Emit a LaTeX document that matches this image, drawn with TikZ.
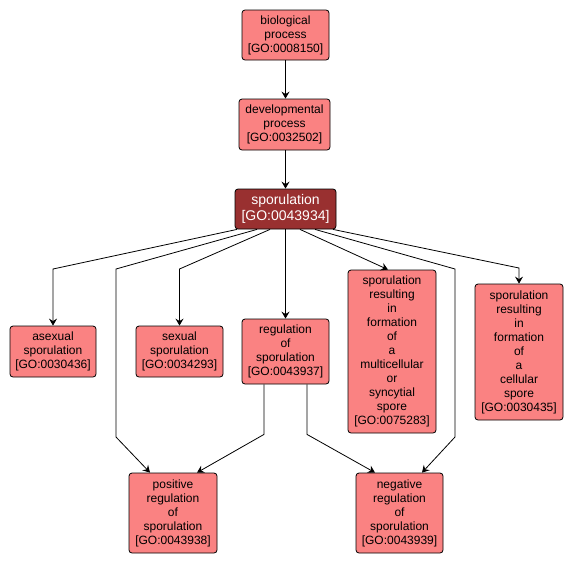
\documentclass[tikz,border=0pt]{standalone}
\usepackage{fontspec}
\setmainfont{Liberation Sans}
\usetikzlibrary{arrows.meta}
\definecolor{termfill}{RGB}{250,130,130}
\definecolor{termdark}{RGB}{153,48,48}

\begin{document}
\begin{tikzpicture}[x=1pt, y=-1pt]
    \tikzset{
        term/.style={draw=black, line width=0.8pt, rounded corners=3pt, fill=termfill,
            align=center, inner sep=0pt, font=\fontsize{12}{14}\selectfont},
        hauptterm/.style={term, fill=termdark, text=white, font=\fontsize{14}{16}\selectfont},
        kante/.style={line width=0.8pt, -{Stealth[length=7pt, width=8pt, inset=2.5pt]}}
    }
    \useasboundingbox (0,0) rectangle (572,563);

    % --- Knoten ---
    \node[term, minimum width=87pt, minimum height=50pt] (bp) at (285.5,35) {biological\\process\\{[GO:0008150]}};
    \node[term, minimum width=91pt, minimum height=51pt] (dp) at (284.5,124.5) {developmental\\process\\{[GO:0032502]}};
    \node[hauptterm, minimum width=101pt, minimum height=40pt] (spor) at (285.5,209) {sporulation\\{[GO:0043934]}};
    \node[term, minimum width=86pt, minimum height=51pt] (asex) at (53,351.5) {asexual\\sporulation\\{[GO:0030436]}};
    \node[term, minimum width=87pt, minimum height=51pt] (sex) at (179.5,351.5) {sexual\\sporulation\\{[GO:0034293]}};
    \node[term, minimum width=87pt, minimum height=65pt] (reg) at (285.5,351.5) {regulation\\of\\sporulation\\{[GO:0043937]}};
    \node[term, minimum width=88pt, minimum height=163pt] (multi) at (392,351.5)
        {sporulation\\resulting\\in\\formation\\of\\a\\multicellular\\or\\syncytial\\spore\\{[GO:0075283]}};
    \node[term, minimum width=88pt, minimum height=136pt] (cell) at (519,352)
        {sporulation\\resulting\\in\\formation\\of\\a\\cellular\\spore\\{[GO:0030435]}};
    \node[term, minimum width=88pt, minimum height=80pt] (pos) at (173,513) {positive\\regulation\\of\\sporulation\\{[GO:0043938]}};
    \node[term, minimum width=87pt, minimum height=80pt] (neg) at (399.5,513) {negative\\regulation\\of\\sporulation\\{[GO:0043939]}};

    % --- Kanten ---
    \draw[kante] (bp) -- (bp |- dp.north);
    \draw[kante] (dp.south -| spor.north) -- (spor);
    \draw[kante] ([xshift=-48.5pt]spor.south) -- (asex.north |- 0,269) -- (asex.north);
    \draw[kante] ([xshift=-28.5pt]spor.south) -- (116,269) -- (116,437) -- ([xshift=-23pt]pos.north);
    \draw[kante] ([xshift=-15.5pt]spor.south) -- (sex.north |- 0,269) -- (sex.north);
    \draw[kante] (spor) -- (reg);
    \draw[kante] ([xshift=14.5pt]spor.south) -- ([xshift=-4pt]multi.north);
    \draw[kante] ([xshift=29.5pt]spor.south) -- (455,269) -- (455,437) -- ([xshift=22.5pt]neg.north);
    \draw[kante] ([xshift=47.5pt]spor.south) -- (cell.north |- 0,268) -- (cell.north);
    \draw[kante] ([xshift=-21.5pt]reg.south) -- ++(0,50) -- ([xshift=24pt]pos.north);
    \draw[kante] ([xshift=21.5pt]reg.south) -- ++(0,50) -- ([xshift=-24.5pt]neg.north);

\end{tikzpicture}
\end{document}
